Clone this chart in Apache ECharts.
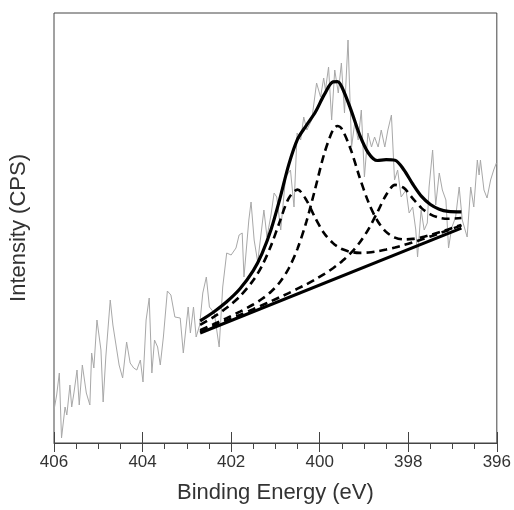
<!DOCTYPE html>
<html>
<head>
<meta charset="utf-8">
<script src="https://cdn.jsdelivr.net/npm/echarts@6/dist/echarts.min.js"></script>
<style>
  html, body { margin: 0; padding: 0; background: #fff; }
  #main { width: 514px; height: 510px; }
</style>
</head>
<body>
<div id="main"></div>
<script>
// measured spectrum (binding energy in eV, intensity in arbitrary counts)
const rawEnergy = [
  406.00, 405.94, 405.88, 405.83, 405.75, 405.71, 405.64, 405.60, 405.55, 405.48,
  405.43, 405.36, 405.32, 405.27, 405.19, 405.15, 405.10, 405.03, 405.00, 404.94,
  404.89, 404.83, 404.73, 404.67, 404.63, 404.53, 404.45, 404.36, 404.28, 404.20,
  404.13, 404.05, 403.99, 403.92, 403.85, 403.79, 403.73, 403.66, 403.60, 403.53,
  403.44, 403.36, 403.27, 403.15, 403.08, 402.97, 402.92, 402.85, 402.79, 402.71,
  402.64, 402.56, 402.49, 402.38, 402.27, 402.19, 402.10, 402.00, 401.89, 401.82,
  401.75, 401.71, 401.60, 401.55, 401.48, 401.40, 401.26, 401.19, 401.10, 401.03,
  400.97, 400.88, 400.77, 400.66, 400.58, 400.51, 400.43, 400.36, 400.29, 400.18,
  400.07, 399.98, 399.91, 399.87, 399.80, 399.73, 399.66, 399.58, 399.51, 399.44,
  399.36, 399.28, 399.21, 399.13, 399.06, 398.99, 398.91, 398.83, 398.76, 398.68,
  398.61, 398.53, 398.46, 398.38, 398.31, 398.24, 398.16, 398.05, 397.98, 397.90,
  397.83, 397.79, 397.71, 397.64, 397.57, 397.53, 397.45, 397.38, 397.30, 397.23,
  397.15, 397.09, 397.02, 396.93, 396.85, 396.78, 396.67, 396.59, 396.52, 396.44,
  396.40, 396.37, 396.29, 396.22, 396.14, 396.07, 396.01
];
const rawCounts = [
  33, 48, 70, 5, 36, 28, 58, 36, 50, 73,
  38, 78, 76, 50, 38, 90, 75, 123, 125, 93,
  41, 86, 143, 118, 120, 78, 65, 101, 80, 75,
  73, 83, 61, 123, 145, 70, 103, 96, 78, 106,
  152, 148, 126, 125, 90, 136, 110, 136, 106, 118,
  150, 166, 136, 130, 96, 156, 190, 188, 195, 208,
  210, 166, 223, 241, 203, 181, 233, 206, 228, 250,
  246, 213, 266, 273, 236, 310, 303, 326, 313, 323,
  360, 346, 365, 353, 376, 323, 373, 350, 380, 330,
  403, 296, 320, 303, 333, 266, 310, 296, 306, 296,
  313, 296, 313, 328, 263, 273, 246, 253, 230, 236,
  213, 186, 233, 213, 220, 256, 293, 238, 270, 253,
  243, 195, 215, 226, 256, 223, 206, 256, 236, 283,
  268, 283, 253, 245, 263, 273, 280
];

// peak fit
const fitEnergy = [
  402.7, 402.4, 402.1, 401.8, 401.5, 401.3, 401.1, 400.9, 400.7, 400.5,
  400.3, 400.1, 399.9, 399.7, 399.6, 399.5, 399.3, 399.1, 398.9, 398.7,
  398.5, 398.3, 398.1, 397.9, 397.7, 397.5, 397.3, 397.1, 396.8
];
const envelope = [
  122.2, 130.8, 141.2, 154.2, 172.4, 189.7, 213.2, 244.1, 278.1, 303.8,
  317.7, 330.7, 348.1, 361.1, 361.3, 356.0, 333.9, 308.4, 290.0, 282.5,
  283.3, 282.8, 273.3, 259.0, 246.6, 238.5, 233.8, 231.6, 231.1
];
const peak1 = [
  118.1, 125.9, 135.2, 146.7, 162.7, 177.5, 197.2, 221.6, 244.7, 253.4,
  242.9, 225.0, 209.7, 199.8, 196.5, 194.0, 191.1, 190.1, 190.5, 191.7,
  193.4, 195.5, 198.0, 200.7, 203.5, 206.6, 209.6, 212.8, 217.6
];
const peak2 = [
  112.8, 118.7, 124.9, 131.4, 138.5, 144.2, 151.2, 160.8, 174.5, 194.4,
  221.3, 254.5, 288.9, 313.2, 317.0, 314.1, 293.7, 265.9, 240.9, 222.5,
  211.1, 205.4, 203.6, 204.1, 205.7, 208.1, 210.7, 213.6, 218.1
];
const peak3 = [
  111.4, 116.9, 122.5, 128.1, 133.8, 137.8, 141.7, 145.8, 149.9, 154.3,
  158.7, 163.6, 168.8, 174.8, 178.1, 181.6, 189.8, 200.2, 213.7, 230.5,
  248.0, 258.1, 255.1, 244.7, 234.9, 228.7, 225.3, 224.3, 225.0
];
const baseEnergy = [402.7, 396.8];
const baseCounts = [110, 214.8];

const zip = (xs, ys) => xs.map((x, i) => [x, ys[i]]);

const chart = echarts.init(document.getElementById('main'), null, { renderer: 'canvas' });

const xCommon = {
  type: 'value',
  min: 396,
  max: 406,
  interval: 2,
  inverse: true,
  splitLine: { show: false },
};

const dashed = (name, values) => ({
  name,
  type: 'line',
  data: zip(fitEnergy, values),
  showSymbol: false,
  smooth: 0.3,
  lineStyle: { color: '#000', width: 2.6, type: [8, 5] },
  z: 3,
});

chart.setOption({
  animation: false,
  backgroundColor: '#fff',
  textStyle: { fontFamily: 'Liberation Sans, Arial, sans-serif' },
  grid: {
    left: 53, right: 16, top: 13, bottom: 67,
    show: true, borderColor: '#444', borderWidth: 1,
  },
  xAxis: [
    {
      ...xCommon,
      name: 'Binding Energy (eV)',
      nameLocation: 'middle',
      nameGap: 39,
      nameTextStyle: { fontSize: 22, color: '#333' },
      axisLine: { show: true, lineStyle: { color: '#444', width: 1 } },
      axisTick: { show: true, inside: false, length: 9, lineStyle: { color: '#444' } },
      minorTick: { show: true, splitNumber: 4, length: 6, lineStyle: { color: '#444' } },
      axisLabel: { fontSize: 17, color: '#333', margin: 11 },
    },
    {
      ...xCommon,
      position: 'bottom',
      axisLine: { show: false },
      axisTick: { show: true, inside: true, length: 11, lineStyle: { color: '#444' } },
      axisLabel: { show: false },
    },
  ],
  yAxis: {
    type: 'value',
    min: 0,
    max: 430,
    name: 'Intensity (CPS)',
    nameLocation: 'middle',
    nameGap: 24,
    nameTextStyle: { fontSize: 22, color: '#333' },
    axisLine: { show: false },
    axisTick: { show: false },
    axisLabel: { show: false },
    splitLine: { show: false },
  },
  series: [
    {
      name: 'data',
      type: 'line',
      data: zip(rawEnergy, rawCounts),
      showSymbol: false,
      lineStyle: { color: '#a8a8a8', width: 1 },
      z: 1,
    },
    {
      name: 'background',
      type: 'line',
      data: zip(baseEnergy, baseCounts),
      showSymbol: false,
      lineStyle: { color: '#000', width: 3 },
      z: 2,
    },
    dashed('peak 1', peak1),
    dashed('peak 2', peak2),
    dashed('peak 3', peak3),
    {
      name: 'envelope',
      type: 'line',
      data: zip(fitEnergy, envelope),
      showSymbol: false,
      smooth: 0.3,
      lineStyle: { color: '#000', width: 3.2 },
      z: 4,
    },
  ],
});
</script>
</body>
</html>
